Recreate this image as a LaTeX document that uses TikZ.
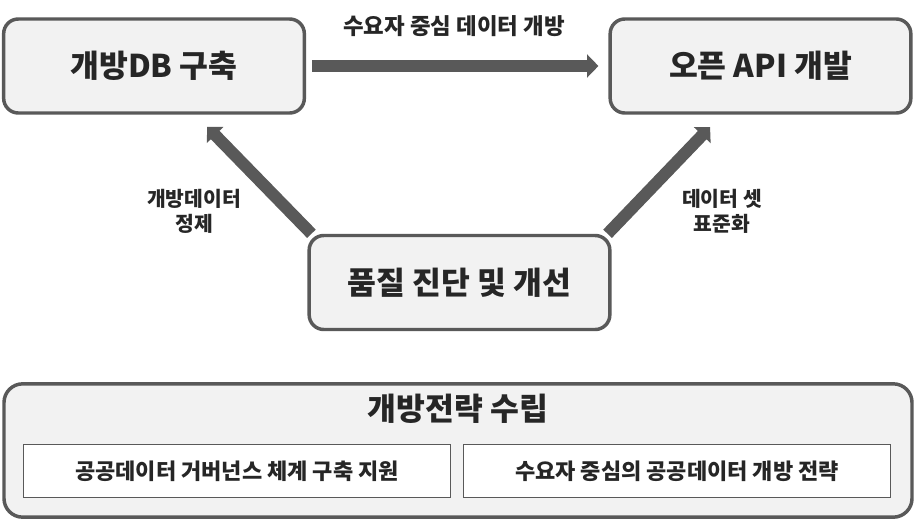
\documentclass[tikz,border=0pt]{standalone}
\usepackage{fontspec}
\setmainfont{Noto Sans CJK KR}
\usepackage{tikz}
\usetikzlibrary{positioning,calc,arrows.meta}
\definecolor{ground}{HTML}{FFFFFF}
\definecolor{surf}{HTML}{F2F2F2}
\definecolor{edge}{HTML}{595959}
\definecolor{ink}{HTML}{262626}
\definecolor{shaft}{HTML}{595959}
\tikzset{
  stage/.style    = {draw=edge, fill=surf, line width=2.6pt, rounded corners=11pt,
                     minimum width=225.5pt, minimum height=70.5pt, inner sep=0pt,
                     font=\fontsize{23.5}{27}\selectfont\bfseries\color{ink}},
  base/.style     = {draw=edge, fill=surf, line width=2.6pt, rounded corners=14pt,
                     minimum width=681pt, minimum height=100pt, inner sep=0pt},
  item/.style     = {draw=edge, fill=white, line width=1.1pt,
                     minimum width=320pt, minimum height=39.5pt, inner sep=0pt,
                     font=\fontsize{16.5}{19}\selectfont\bfseries\color{ink}},
  basetitle/.style= {font=\fontsize{23.5}{27}\selectfont\bfseries\color{ink}, inner sep=0pt},
  lab/.style      = {font=\fontsize{15.3}{18.75}\selectfont\bfseries\color{ink}, align=center, inner sep=0pt},
  toplab/.style   = {font=\fontsize{16.8}{19}\selectfont\bfseries\color{ink}, inner sep=0pt},
  fat/.style      = {-{Triangle[length=8.5pt,width=17pt]}, draw=shaft, line width=9pt},
}
\begin{document}
\begin{tikzpicture}[x=0.75pt,y=-0.75pt]
\path[use as bounding box, fill=ground] (0,0) rectangle (916,521);

% ---- the cycle ----------------------------------------------------------
\node[stage] (db)   at (154,66)    {개방DB 구축};
\node[stage] (api)  at (760.5,66)  {오픈 API 개발};
\node[stage] (qual) at (459.5,282.5) {품질 진단 및 개선};

\draw[fat, shorten <=4.5pt, shorten >=7.5pt] (db.east) -- (api.west);
\draw[fat, shorten >=12.75pt] ([xshift=3]qual.north west) -- ([xshift=31]db.south);
\draw[fat, shorten >=12.75pt] ([xshift=-3]qual.north east) -- ([xshift=-29]api.south);

\node[toplab] (open)  at (454,26)  {수요자 중심 데이터 개방};
\node[lab]    (clean) at (194,211) {개방데이터\\정제};
\node[lab]    (std)   at (722,211) {데이터 셋\\표준화};

% ---- the strategy -------------------------------------------------------
\node[base] (plan) at (458,450.5) {};
\node[basetitle] (plantitle) at (458,409) {개방전략 수립};
\node[item] (gov)  at (237,471) {공공데이터 거버넌스 체계 구축 지원};
\node[item] (user) at (677,471) {수요자 중심의 공공데이터 개방 전략};

\end{tikzpicture}
\end{document}
